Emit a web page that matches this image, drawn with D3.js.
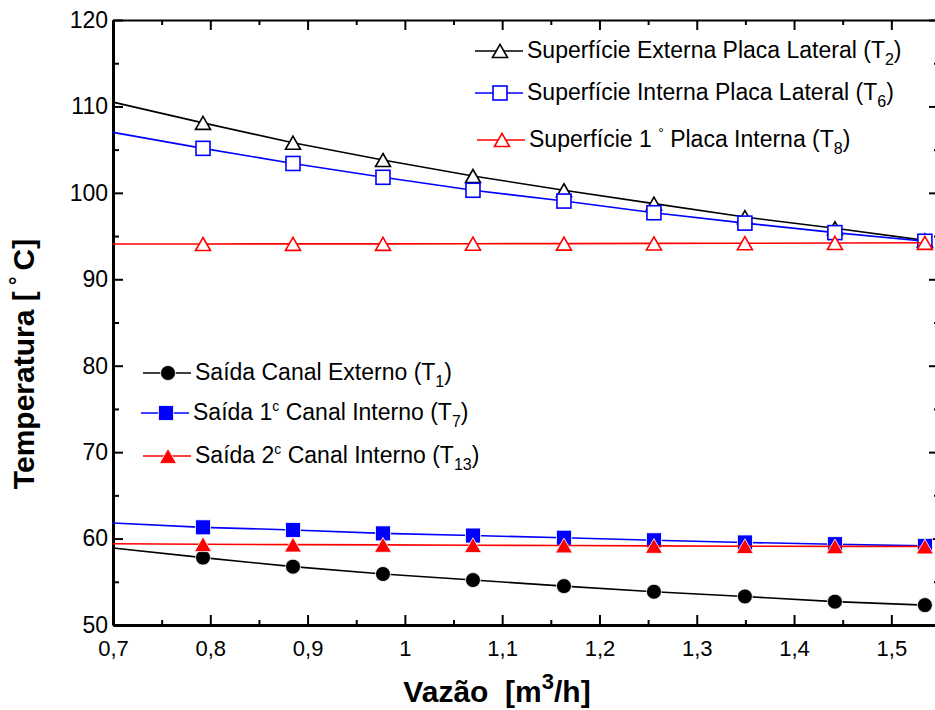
<!DOCTYPE html>
<html>
<head>
<meta charset="utf-8">
<script src="https://cdn.jsdelivr.net/npm/d3@7"></script>
<style>
  body { margin: 0; background: #fff; }
  text { font-family: "Liberation Sans", Arial, sans-serif; fill: #000; }
</style>
</head>
<body>
<div id="chart"></div>
<script>
// flow rate [m3/h] -- first point has no marker drawn
var flow = [0.70, 0.7925, 0.885, 0.9775, 1.070, 1.1635, 1.256, 1.3495, 1.442, 1.5345];

var t2  = [110.5, 108.1, 105.8, 103.8, 101.95, 100.3, 98.75, 97.2, 95.9, 94.5];
var t6  = [107.0, 105.15, 103.4, 101.8, 100.3, 99.05, 97.7, 96.5, 95.4, 94.4];
var t8  = [94.08, 94.08, 94.1, 94.1, 94.12, 94.13, 94.15, 94.17, 94.2, 94.22];
var t1  = [58.9, 57.8, 56.75, 55.9, 55.2, 54.5, 53.85, 53.3, 52.7, 52.3];
var t7  = [61.8, 61.3, 61.0, 60.6, 60.35, 60.1, 59.8, 59.55, 59.35, 59.15];
var t13 = [59.4, 59.35, 59.3, 59.27, 59.23, 59.2, 59.15, 59.12, 59.1, 59.08];

var xTicks = [0.7, 0.8, 0.9, 1.0, 1.1, 1.2, 1.3, 1.4, 1.5];
var yTicks = [50, 60, 70, 80, 90, 100, 110, 120];

var svg = d3.select("#chart")
  .append("svg")
  .attr("width", 935)
  .attr("height", 710);

var pLeft = 113, pRight = 939, pTop = 20, pBottom = 625;

var x = d3.scaleLinear().domain([0.7, 1.549]).range([pLeft, pRight]);
var y = d3.scaleLinear().domain([50, 120]).range([pBottom, pTop]);

var xMinor = d3.range(0.75, 1.55, 0.1);
var yMinor = d3.range(55, 120, 10);
var fmt = function (d) { return d3.format(".1~f")(d).replace(".", ","); };

// axes: major ticks inward, minor ticks shorter
function styleAxis(g, w) {
  g.select(".domain").attr("stroke-width", w);
  g.selectAll(".tick line").attr("stroke-width", 2);
}
function minor(g) {
  g.select(".domain").remove();
  g.selectAll(".tick line").attr("stroke-width", 2);
}

svg.append("g").attr("transform", "translate(0," + pBottom + ")")
  .call(d3.axisBottom(x).tickValues(xTicks).tickSizeInner(-10).tickSizeOuter(0).tickPadding(15).tickFormat(fmt))
  .call(styleAxis, 3)
  .selectAll("text").attr("font-size", 22).attr("font-family", "Liberation Sans, Arial");

svg.append("g").attr("transform", "translate(0," + pBottom + ")")
  .call(d3.axisBottom(x).tickValues(xMinor).tickSizeInner(-5).tickSizeOuter(0).tickFormat(""))
  .call(minor);

svg.append("g").attr("transform", "translate(0," + pTop + ")")
  .call(d3.axisTop(x).tickValues(xTicks).tickSizeInner(-10).tickSizeOuter(0).tickFormat(""))
  .call(styleAxis, 2);

svg.append("g").attr("transform", "translate(0," + pTop + ")")
  .call(d3.axisTop(x).tickValues(xMinor).tickSizeInner(-5).tickSizeOuter(0).tickFormat(""))
  .call(minor);

svg.append("g").attr("transform", "translate(" + pLeft + ",0)")
  .call(d3.axisLeft(y).tickValues(yTicks).tickSizeInner(-10).tickSizeOuter(0).tickPadding(5))
  .call(styleAxis, 3)
  .selectAll("text").attr("font-size", 23).attr("font-family", "Liberation Sans, Arial");

svg.append("g").attr("transform", "translate(" + pLeft + ",0)")
  .call(d3.axisLeft(y).tickValues(yMinor).tickSizeInner(-6).tickSizeOuter(0).tickFormat(""))
  .call(minor);

svg.append("g").attr("transform", "translate(" + pRight + ",0)")
  .call(d3.axisRight(y).tickValues(yTicks).tickSizeInner(-10).tickSizeOuter(0).tickFormat(""))
  .call(styleAxis, 3);

svg.append("g").attr("transform", "translate(" + pRight + ",0)")
  .call(d3.axisRight(y).tickValues(yMinor).tickSizeInner(-5).tickSizeOuter(0).tickFormat(""))
  .call(minor);

// markers
function triPath(s) {
  var h = s * 0.87;
  return "M0," + (-h / 2) + "L" + (s / 2) + "," + (h / 2) + "L" + (-s / 2) + "," + (h / 2) + "Z";
}
function drawMarker(g, type, color) {
  if (type === "triOpen") {
    g.append("path").attr("d", triPath(15)).attr("fill", "#fff").attr("stroke", color).attr("stroke-width", 1.6);
  } else if (type === "sqOpen") {
    g.append("rect").attr("x", -7).attr("y", -7).attr("width", 14).attr("height", 14)
      .attr("fill", "#fff").attr("stroke", color).attr("stroke-width", 1.6);
  } else if (type === "circle") {
    g.append("circle").attr("r", 7.5).attr("fill", color).attr("stroke", "#fff").attr("stroke-width", 0.8);
  } else if (type === "sqFill") {
    g.append("rect").attr("x", -7.5).attr("y", -7.5).attr("width", 15).attr("height", 15)
      .attr("fill", color).attr("stroke", "#fff").attr("stroke-width", 0.8);
  } else if (type === "triFill") {
    g.append("path").attr("d", triPath(17)).attr("fill", color).attr("stroke", "#fff").attr("stroke-width", 0.8);
  }
}

var series = [
  { values: t2,  color: "#000", marker: "triOpen" },
  { values: t6,  color: "#0000ff", marker: "sqOpen" },
  { values: t8,  color: "#ff0000", marker: "triOpen" },
  { values: t1,  color: "#000", marker: "circle" },
  { values: t7,  color: "#0000ff", marker: "sqFill" },
  { values: t13, color: "#ff0000", marker: "triFill" }
];

var line = d3.line().x(d => x(d[0])).y(d => y(d[1]));

series.forEach(function (s) {
  var pts = flow.map((f, i) => [f, s.values[i]]);
  svg.append("path").attr("d", line(pts)).attr("fill", "none")
    .attr("stroke", s.color).attr("stroke-width", 1.6);
  pts.slice(1).forEach(function (p) {
    var g = svg.append("g").attr("transform", "translate(" + x(p[0]) + "," + y(p[1]) + ")");
    drawMarker(g, s.marker, s.color);
  });
});

// legends
function legendEntry(lx, ly, len, s, parts) {
  svg.append("line").attr("x1", lx).attr("x2", lx + len).attr("y1", ly).attr("y2", ly)
    .attr("stroke", s.color).attr("stroke-width", 1.6);
  var g = svg.append("g").attr("transform", "translate(" + (lx + len / 2 + 1) + "," + ly + ")");
  drawMarker(g, s.marker, s.color);
  var t = svg.append("text").attr("x", lx + len + 4).attr("y", ly + 7).attr("font-size", 23);
  parts.forEach(function (p) {
    var sp = t.append("tspan").text(p.t);
    if (p.sub) sp.attr("font-size", 16).attr("dy", 7);
    if (p.sup) sp.attr("font-size", 14).attr("dy", -9);
    if (p.back) sp.attr("dy", p.back);
  });
}

legendEntry(475, 51, 48, series[0], [{ t: "Superfície Externa Placa Lateral (T" }, { t: "2", sub: 1 }, { t: ")", back: -7 }]);
legendEntry(475, 93, 48, series[1], [{ t: "Superfície Interna Placa Lateral (T" }, { t: "6", sub: 1 }, { t: ")", back: -7 }]);
legendEntry(477, 140, 48, series[2], [{ t: "Superfície 1 " }, { t: "°", sup: 1 }, { t: " Placa Interna (T", back: 9 }, { t: "8", sub: 1 }, { t: ")", back: -7 }]);

legendEntry(143, 373, 48, series[3], [{ t: "Saída Canal Externo (T" }, { t: "1", sub: 1 }, { t: ")", back: -7 }]);
legendEntry(141, 413, 48, series[4], [{ t: "Saída 1" }, { t: "c", sup: 1 }, { t: " Canal Interno (T", back: 9 }, { t: "7", sub: 1 }, { t: ")", back: -7 }]);
legendEntry(143, 456, 48, series[5], [{ t: "Saída 2" }, { t: "c", sup: 1 }, { t: " Canal Interno (T", back: 9 }, { t: "13", sub: 1 }, { t: ")", back: -7 }]);

// axis titles
var yt = svg.append("text")
  .attr("transform", "translate(34,364) rotate(-90)")
  .attr("text-anchor", "middle")
  .attr("font-size", 30).attr("font-weight", "bold");
yt.append("tspan").text("Temperatura [\u2009");
yt.append("tspan").text("°").attr("font-size", 22).attr("dy", -9);
yt.append("tspan").text("\u2009C]").attr("dy", 9);

var xt = svg.append("text")
  .attr("x", 497).attr("y", 702)
  .attr("text-anchor", "middle")
  .attr("font-size", 30).attr("font-weight", "bold");
xt.append("tspan").text("Vazão\u00a0 [m");
xt.append("tspan").text("3").attr("font-size", 22).attr("dy", -13);
xt.append("tspan").text("/h]").attr("dy", 13);
</script>
</body>
</html>
